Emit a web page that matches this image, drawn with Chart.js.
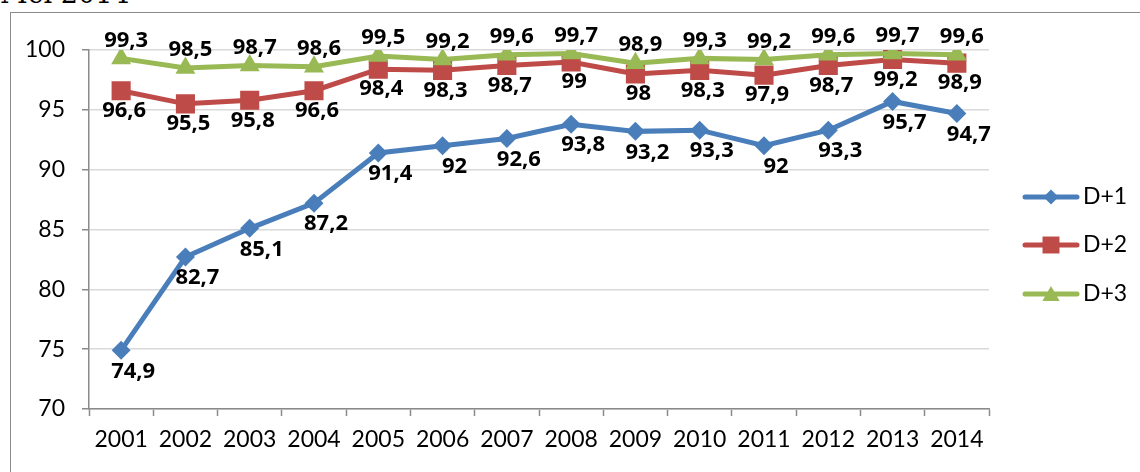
<!DOCTYPE html>
<html>
<head>
<meta charset="utf-8">
<script src="https://cdn.jsdelivr.net/npm/chart.js@4"></script>
<style>
  html, body { margin: 0; padding: 0; background: #fff; }
  #wrap { position: relative; width: 1140px; height: 472px; overflow: hidden; }
  #title { position: absolute; left: 0; top: -22px; font: 27px "DejaVu Serif", serif; color: #000; white-space: nowrap; }
  #box { position: absolute; left: 10px; top: 12px; width: 1200px; height: 520px; border: 1.5px solid #8a8a8a; }
  canvas { position: absolute; left: 0; top: 0; }
</style>
</head>
<body>
<div id="wrap">
  <div id="title">Mei 2014</div>
  <div id="box"></div>
  <canvas id="chart" width="1140" height="472"></canvas>
</div>
<script>
// Data
const years = ['2001', '2002', '2003', '2004', '2005', '2006', '2007', '2008', '2009', '2010', '2011', '2012', '2013', '2014'];
const d1 = [74.9, 82.7, 85.1, 87.2, 91.4, 92, 92.6, 93.8, 93.2, 93.3, 92, 93.3, 95.7, 94.7];
const d2 = [96.6, 95.5, 95.8, 96.6, 98.4, 98.3, 98.7, 99, 98, 98.3, 97.9, 98.7, 99.2, 98.9];
const d3 = [99.3, 98.5, 98.7, 98.6, 99.5, 99.2, 99.6, 99.7, 98.9, 99.3, 99.2, 99.6, 99.7, 99.6];
const yTicks = [70, 75, 80, 85, 90, 95, 100];

const series = [
    { label: 'D+1', data: d1, color: '#4a7ebb', style: 'rectRot', radius: 9.5, legendRadius: 7.5, dx: 12, dy: 21, order: 2 },
    { label: 'D+2', data: d2, color: '#be4b48', style: 'rect', radius: 13.5, legendRadius: 12, dx: 3, dy: 20, order: 1 },
    { label: 'D+3', data: d3, color: '#98b954', style: 'triangle', radius: 11.5, legendRadius: 10, dx: 5, dy: -18, order: 0 }
];

const fmt = v => String(v).replace('.', ',');

// labels + legend, drawn on top of the lines
const labelPlugin = {
    id: 'labels',
    afterDatasetsDraw(chart) {
        const ctx = chart.ctx;
        ctx.save();
        ctx.font = 'bold 22px "Open Sans"';
        ctx.fillStyle = '#000';
        ctx.textAlign = 'center';
        ctx.textBaseline = 'middle';
        series.forEach((s, i) => {
            chart.getDatasetMeta(i).data.forEach((pt, j) => {
                ctx.fillText(fmt(s.data[j]), pt.x + s.dx, pt.y + s.dy);
            });
        });
        ctx.restore();
    },
    afterDraw(chart) {
        const ctx = chart.ctx;
        ctx.save();
        const ys = [197, 245, 294];
        series.forEach((s, i) => {
            const y = ys[i];
            ctx.strokeStyle = s.color;
            ctx.lineWidth = 5;
            ctx.lineCap = 'round';
            ctx.beginPath();
            ctx.moveTo(1025, y);
            ctx.lineTo(1077, y);
            ctx.stroke();
            ctx.fillStyle = s.color;
            Chart.helpers.drawPoint(ctx, { pointStyle: s.style, radius: s.legendRadius, rotation: 0, borderWidth: 0 },
                1051, y + (s.style === 'triangle' ? 2 : 0));
            ctx.fillStyle = '#000';
            ctx.font = '23px Lato';
            ctx.textAlign = 'left';
            ctx.textBaseline = 'middle';
            ctx.fillText(s.label, 1083, y);
        });
        ctx.restore();
    }
};

const ctx = document.getElementById('chart').getContext('2d');
const chart = new Chart(ctx, {
    type: 'line',
    data: {
        labels: years,
        datasets: series.map(s => ({
            label: s.label,
            data: s.data,
            borderColor: s.color,
            backgroundColor: s.color,
            borderWidth: 5,
            pointStyle: s.style,
            pointRadius: s.radius,
            pointHoverRadius: s.radius,
            pointBorderWidth: 0,
            pointBackgroundColor: s.color,
            tension: 0,
            order: s.order
        }))
    },
    options: {
        responsive: false,
        animation: false,
        events: [],
        layout: { padding: { left: 0, top: 50, right: 151, bottom: 0 } },
        plugins: { legend: { display: false }, tooltip: { enabled: false } },
        scales: {
            x: {
                offset: true,
                afterFit: s => { s.height = 63; },
                grid: { offset: true, drawOnChartArea: false, tickLength: 7, tickColor: '#8a8a8a', tickWidth: 1.5 },
                border: { color: '#8a8a8a', width: 1.5 },
                ticks: { color: '#000', font: { family: 'Lato', size: 23 }, padding: 10, maxRotation: 0, autoSkip: false }
            },
            y: {
                min: 70,
                max: 100,
                afterFit: s => { s.width = 89; },
                afterBuildTicks: s => { s.ticks = yTicks.map(v => ({ value: v })); },
                grid: { color: '#d9d9d9', lineWidth: 1.5, borderDash: [7, 5], tickLength: 7, tickColor: '#8a8a8a', tickWidth: 1.5, tickBorderDash: [] },
                border: { color: '#8a8a8a', width: 1.5 },
                ticks: { color: '#000', font: { family: 'Lato', size: 23 }, padding: 17 }
            }
        }
    },
    plugins: [labelPlugin]
});
</script>
</body>
</html>
